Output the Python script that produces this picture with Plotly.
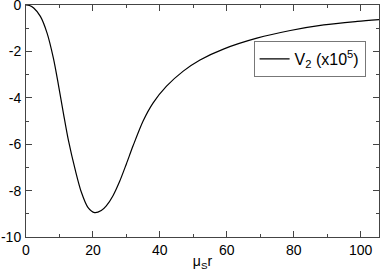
import plotly.graph_objects as go

# data
mu_r = [0, 1, 2.3, 4.3, 6.3, 8.2, 9.7, 11.2, 12.7, 14.7, 16.5, 18.5, 20.5, 22.5,
        24, 26, 28, 30, 32, 35, 38, 42, 47, 52, 59, 69, 79, 89, 99, 105.5]
v2 = [0, -0.02, -0.13, -0.49, -1.21, -2.3, -3.45, -4.68, -5.85, -7.1, -8.05, -8.72, -8.95, -8.86,
      -8.66, -8.22, -7.6, -6.85, -6.07, -5.0, -4.22, -3.5, -2.85, -2.37, -1.9, -1.43, -1.1, -0.86, -0.71, -0.63]

x_ticks = [0, 20, 40, 60, 80, 100]
y_ticks = [0, -2, -4, -6, -8, -10]

fig = go.Figure()
fig.add_trace(go.Scatter(
    x=mu_r, y=v2, mode="lines", line=dict(color="black", width=1.2, shape="spline", smoothing=0.8),
    name="V<sub>2</sub> (x10<sup>5</sup>)", showlegend=True,
))

axis_common = dict(
    showgrid=False, zeroline=False, showline=True, linecolor="#444", linewidth=1,
    mirror="ticks", ticks="inside", ticklen=6, tickcolor="#444", tickwidth=1,
    automargin=False, ticklabeloverflow="allow",
    tickfont=dict(size=14, color="black", family="Liberation Sans, Arial, sans-serif"),
)
fig.update_xaxes(
    range=[0, 105.5], tickvals=x_ticks, ticktext=[str(v) for v in x_ticks],
    minor=dict(ticks="inside", ticklen=3, dtick=10, tick0=0, tickcolor="#444", showgrid=False),
    title=dict(text="μ<sub>S</sub>r", standoff=0, font=dict(size=14, color="black")),
    ticklabelstandoff=0,
    **axis_common,
)
fig.update_yaxes(
    range=[-10, 0], tickvals=y_ticks, ticktext=[str(v) for v in y_ticks],
    minor=dict(ticks="inside", ticklen=3, dtick=1, tick0=0, tickcolor="#444", showgrid=False),
    ticklabelstandoff=1,
    **axis_common,
)
fig.update_layout(
    width=382, height=271,
    margin=dict(l=26, r=3, t=5, b=34, autoexpand=False),
    paper_bgcolor="white", plot_bgcolor="white",
    font=dict(family="Liberation Sans, Arial, sans-serif", size=14, color="black"),
    legend=dict(
        x=0.962, y=0.845, xanchor="right", yanchor="top",
        bordercolor="#777", borderwidth=1, bgcolor="white",
        itemwidth=30, font=dict(size=16), tracegroupgap=0,
    ),
)
fig.write_html(
    "out.html",
    config={"displayModeBar": False},
    post_script="document.body.style.margin='0';document.body.style.padding='0';",
)
